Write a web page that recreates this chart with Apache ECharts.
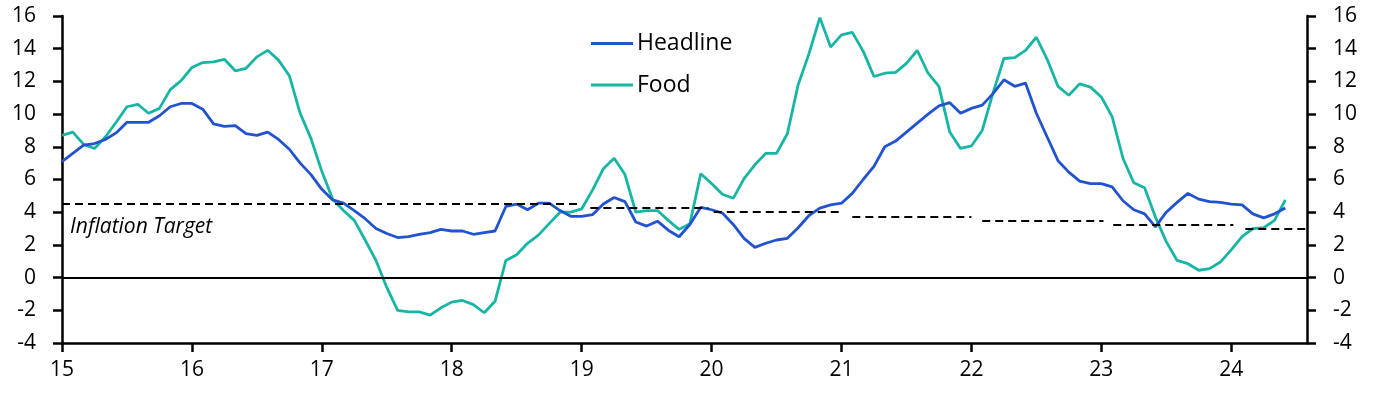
<!DOCTYPE html>
<html>
<head>
<meta charset="utf-8">
<script src="https://cdn.jsdelivr.net/npm/echarts@6/dist/echarts.min.js"></script>
<style>
html,body{margin:0;padding:0;background:#fff;}
#chart{width:1374px;height:393px;}
</style>
</head>
<body>
<div id="chart"></div>
<script>
// Monthly data, Jan 2015 (index 0) to Jun 2024 (index 113)
const yearLabels = ['15','16','17','18','19','20','21','22','23','24'];

const headline = [
  7.1, 7.6, 8.1, 8.2, 8.45, 8.85, 9.5, 9.5, 9.5, 9.9, 10.45, 10.65,
  10.65, 10.3, 9.4, 9.25, 9.3, 8.8, 8.7, 8.9, 8.45, 7.85, 7.0, 6.3,
  5.4, 4.75, 4.55, 4.1, 3.6, 3.0, 2.7, 2.45, 2.5, 2.65, 2.75, 2.95,
  2.85, 2.85, 2.65, 2.75, 2.85, 4.35, 4.5, 4.15, 4.55, 4.55, 4.1, 3.75,
  3.75, 3.85, 4.5, 4.9, 4.65, 3.4, 3.15, 3.45, 2.9, 2.5, 3.25, 4.3,
  4.15, 3.95, 3.25, 2.4, 1.85, 2.1, 2.3, 2.4, 3.05, 3.8, 4.25, 4.45,
  4.55, 5.15, 6.0, 6.8, 8.0, 8.35, 8.9, 9.45, 10.0, 10.5, 10.7, 10.05,
  10.35, 10.55, 11.25, 12.1, 11.7, 11.9, 10.05, 8.6, 7.15, 6.45, 5.9, 5.75,
  5.75, 5.55, 4.7, 4.15, 3.9, 3.1, 4.0, 4.6, 5.15, 4.8, 4.65, 4.6,
  4.5, 4.45, 3.9, 3.65, 3.9, 4.25
];

const food = [
  8.7, 8.9, 8.15, 7.9, 8.6, 9.5, 10.45, 10.6, 10.05, 10.35, 11.5, 12.05,
  12.85, 13.15, 13.2, 13.35, 12.65, 12.8, 13.5, 13.9, 13.3, 12.35, 10.05, 8.5,
  6.5, 4.8, 4.1, 3.5, 2.3, 1.05, -0.6, -2.0, -2.1, -2.1, -2.3, -1.85,
  -1.5, -1.4, -1.65, -2.15, -1.45, 1.05, 1.4, 2.1, 2.6, 3.3, 4.0, 4.0,
  4.2, 5.35, 6.65, 7.3, 6.3, 4.0, 4.1, 4.1, 3.5, 2.95, 3.3, 6.35,
  5.75, 5.1, 4.85, 6.05, 6.9, 7.6, 7.6, 8.8, 11.8, 13.7, 15.9, 14.1,
  14.85, 15.0, 13.85, 12.3, 12.5, 12.55, 13.1, 13.9, 12.5, 11.7, 8.9, 7.9,
  8.05, 9.0, 11.3, 13.4, 13.45, 13.9, 14.7, 13.35, 11.7, 11.15, 11.85, 11.65,
  11.05, 9.85, 7.3, 5.8, 5.5, 3.7, 2.2, 1.05, 0.85, 0.45, 0.55, 0.95,
  1.7, 2.5, 3.0, 3.05, 3.5, 4.75
];

// Inflation target: value, start month, end month
const targetValue = [4.5, 4.25, 4.0, 3.75, 3.5, 3.25, 3.0];
const targetStart = [0, 48.8, 60.2, 73, 85, 97.1, 109.3];
const targetEnd   = [48, 59.7, 72, 84, 96.2, 108.2, 115];

const yTicks = [-4, -2, 0, 2, 4, 6, 8, 10, 12, 14, 16];

const xMax = 115;
const monthTicks = yearLabels.map((_, i) => i * 12);

const FONT = 'Open Sans';
const BLUE = '#2253cf';
const TEAL = '#17b5a3';

const chart = echarts.init(document.getElementById('chart'), null, {renderer: 'canvas'});

const targetSegments = targetValue.map((v, i) => [
  {coord: [targetStart[i], v]},
  {coord: [targetEnd[i], v]}
]);

function yAxisDef(pos) {
  return {
    type: 'value', position: pos, min: yTicks[0], max: yTicks[yTicks.length - 1], interval: 2,
    axisLine: {show: true, lineStyle: {color: '#000', width: 2.5}},
    axisTick: {show: true, length: 9, lineStyle: {color: '#000', width: 2.5}},
    axisLabel: {color: '#000', fontFamily: FONT, fontSize: 21, margin: 26},
    splitLine: {show: false}
  };
}

const option = {
  animation: false,
  backgroundColor: '#fff',
  grid: {left: 62, right: 67, top: 16, bottom: 50, containLabel: false},
  legend: {
    orient: 'vertical', left: 586, top: 26.5,
    icon: 'rect', itemWidth: 42, itemHeight: 3, itemGap: 17.6,
    textStyle: {color: '#000', fontFamily: FONT, fontSize: 23, lineHeight: 24, padding: [0,0,0,-1]},
    data: ['Headline', 'Food']
  },
  xAxis: {
    type: 'value', min: 0, max: xMax, interval: 12,
    axisLine: {show: true, onZero: false, lineStyle: {color: '#000', width: 2.5}},
    axisTick: {show: true, length: 9, customValues: monthTicks, lineStyle: {color: '#000', width: 2.5}},
    axisLabel: {
      color: '#000', fontFamily: FONT, fontSize: 21, margin: 17,
      customValues: monthTicks,
      formatter: v => (v % 12 === 0 && v / 12 < yearLabels.length) ? yearLabels[v / 12] : ''
    },
    splitLine: {show: false}
  },
  yAxis: [yAxisDef('left'), yAxisDef('right')],
  series: [
    {
      name: 'Target', type: 'line', data: [], silent: true,
      markLine: {
        silent: true, symbol: 'none', label: {show: false},
        lineStyle: {color: '#000', width: 2, type: [8, 5]},
        data: targetSegments
      }
    },
    {
      name: 'Zero', type: 'line', data: [], silent: true,
      markLine: {
        silent: true, symbol: 'none', label: {show: false},
        lineStyle: {color: '#000', width: 2, type: 'solid'},
        data: [[{coord: [0, 0]}, {coord: [xMax, 0]}]]
      }
    },
    {
      name: 'Food', type: 'line', showSymbol: false, symbol: 'none',
      color: TEAL, lineStyle: {color: TEAL, width: 2.8},
      data: food.map((v, i) => [i, v]), z: 3
    },
    {
      name: 'Headline', type: 'line', showSymbol: false, symbol: 'none',
      color: BLUE, lineStyle: {color: BLUE, width: 2.8},
      data: headline.map((v, i) => [i, v]), z: 4
    }
  ]
};

chart.setOption(option);

const p = chart.convertToPixel({xAxisIndex: 0, yAxisIndex: 0}, [0.75, 3.1]);
chart.setOption({
  graphic: [{
    type: 'text', x: p[0], y: p[1],
    style: {
      text: 'Inflation Target', fill: '#000', fontFamily: FONT, fontStyle: 'italic',
      fontSize: 21, textAlign: 'left', textVerticalAlign: 'middle'
    }
  }]
});
</script>
</body>
</html>
